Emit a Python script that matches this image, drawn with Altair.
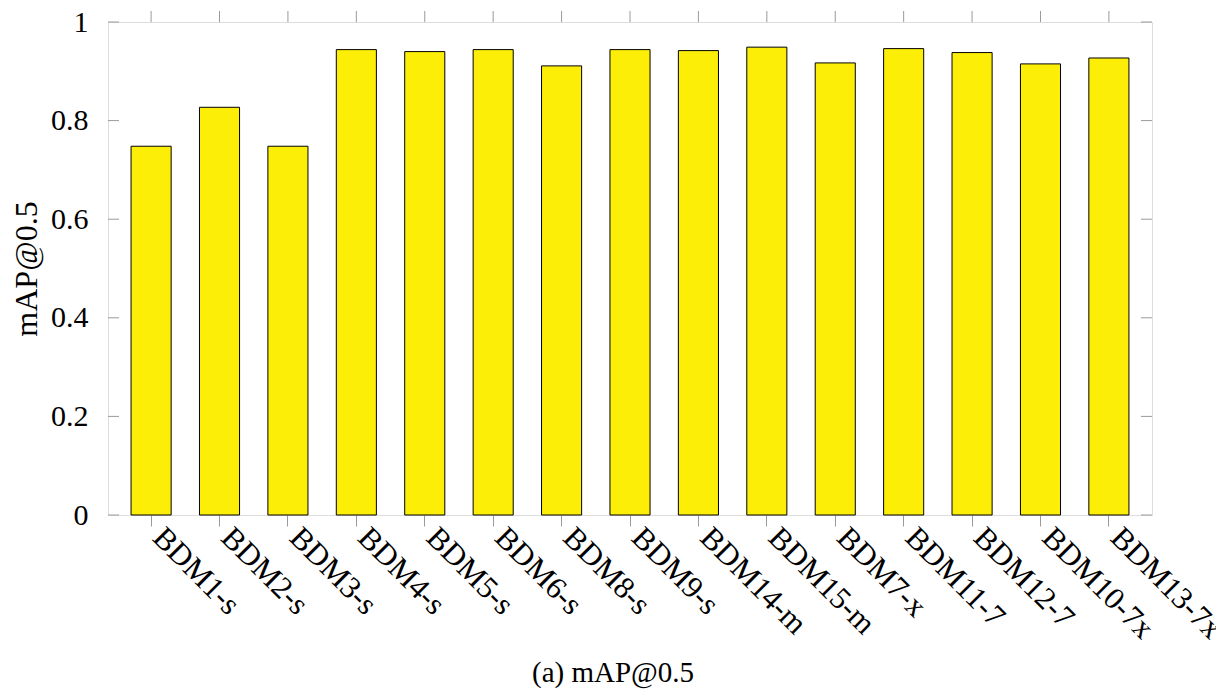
import altair as alt
import pandas as pd

categories = ["BDM1-s", "BDM2-s", "BDM3-s", "BDM4-s", "BDM5-s", "BDM6-s", "BDM8-s",
              "BDM9-s", "BDM14-m", "BDM15-m", "BDM7-x", "BDM11-7", "BDM12-7",
              "BDM10-7x", "BDM13-7x"]
values = [0.748, 0.827, 0.748, 0.944, 0.940, 0.944, 0.911, 0.944, 0.942, 0.949,
          0.917, 0.946, 0.938, 0.915, 0.927]
y_ticks = [0, 0.2, 0.4, 0.6, 0.8, 1.0]

df = pd.DataFrame({"model": categories, "map": values})
ticks_df = pd.DataFrame({"v": y_ticks})

W, H = 1044, 493
FONT = "Liberation Serif"
TICK_COLOR = "#9a9a9a"

xscale = alt.Scale(paddingInner=0.414, paddingOuter=0.337)
yscale = alt.Scale(domain=[0, 1], nice=False)

x_enc = alt.X(
    "model:N", sort=categories, scale=xscale,
    axis=alt.Axis(title=None, labelAngle=45, labelAlign="left", labelBaseline="top",
                  labelFont=FONT, labelFontSize=31, labelColor="black",
                  labelOffset=17, labelPadding=-4,
                  tickSize=11, tickColor=TICK_COLOR, tickWidth=1,
                  domain=False, grid=False),
)

bars = alt.Chart(df).mark_bar(color="#FDEE08", stroke="black", strokeWidth=1).encode(
    x=x_enc,
    y=alt.Y("map:Q", scale=yscale,
            axis=alt.Axis(title="mAP@0.5", values=y_ticks, format="~g", ticks=False,
                          tickSize=0, labelPadding=20, labelFont=FONT, labelFontSize=30,
                          labelColor="black", titleFont=FONT, titleFontSize=32,
                          titleFontWeight="normal", titleColor="black", titlePadding=7,
                          domain=False, grid=False)),
)

top_ticks = alt.Chart(df).mark_rule(color=TICK_COLOR, strokeWidth=1).encode(
    x=alt.X("model:N", sort=categories, scale=xscale),
    y=alt.value(-11), y2=alt.value(0),
)

left_ticks = alt.Chart(ticks_df).mark_rule(color=TICK_COLOR, strokeWidth=1).encode(
    y=alt.Y("v:Q", scale=yscale), x=alt.value(0), x2=alt.value(11),
)
right_ticks = alt.Chart(ticks_df).mark_rule(color=TICK_COLOR, strokeWidth=1).encode(
    y=alt.Y("v:Q", scale=yscale), x=alt.value(W - 11), x2=alt.value(W),
)

chart = alt.layer(bars, top_ticks, left_ticks, right_ticks).properties(
    width=W, height=H,
    title=alt.TitleParams("(a) mAP@0.5", orient="bottom", anchor="middle", font=FONT,
                          fontSize=29, fontWeight="normal", color="black", dx=-17, offset=15),
    autosize=alt.AutoSizeParams(type="none"),
    padding={"left": 100, "top": 14, "right": 64, "bottom": 175},
).configure_view(stroke="black", strokeWidth=1).configure(background="white")

chart.save("out.html", embed_options={"renderer": "svg", "actions": False})
